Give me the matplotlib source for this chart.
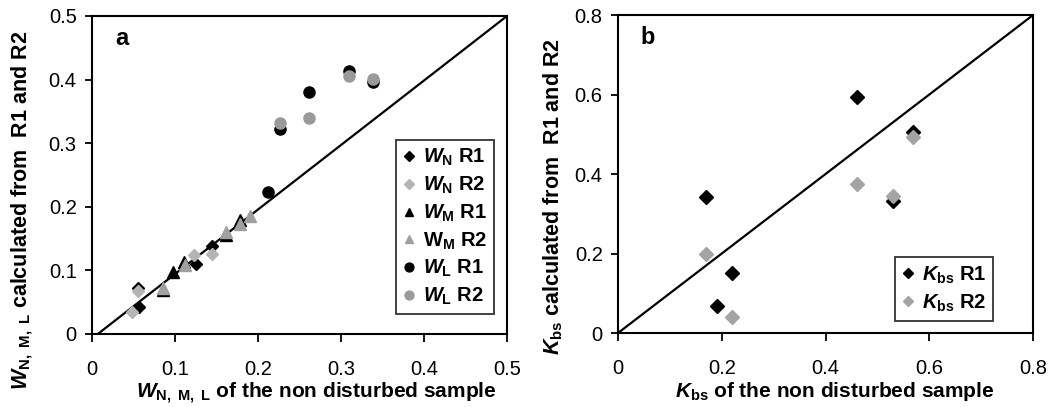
import matplotlib
matplotlib.use("Agg")
import matplotlib.pyplot as plt

plt.rcParams['font.family'] = ['Liberation Sans', 'DejaVu Sans']
plt.rcParams['mathtext.fontset'] = 'custom'
plt.rcParams['mathtext.rm'] = 'Liberation Sans:bold'
plt.rcParams['mathtext.it'] = 'Liberation Sans:bold:italic'
plt.rcParams['mathtext.bf'] = 'Liberation Sans:bold'

# panel a: W_N, W_M, W_L
wn_r1_x = [0.055, 0.057, 0.125, 0.144]
wn_r1_y = [0.072, 0.042, 0.110, 0.138]
wn_r2_x = [0.048, 0.055, 0.123, 0.144]
wn_r2_y = [0.034, 0.067, 0.124, 0.126]
wm_r1_x = [0.085, 0.098, 0.111, 0.162, 0.178]
wm_r1_y = [0.069, 0.098, 0.113, 0.156, 0.180]
wm_r2_x = [0.085, 0.112, 0.162, 0.178, 0.190]
wm_r2_y = [0.073, 0.108, 0.160, 0.173, 0.186]
wl_r1_x = [0.212, 0.227, 0.262, 0.310, 0.339]
wl_r1_y = [0.223, 0.323, 0.381, 0.413, 0.397]
wl_r2_x = [0.227, 0.262, 0.310, 0.339]
wl_r2_y = [0.332, 0.340, 0.405, 0.401]
line_a = ([0.007, 0.5], [0.0, 0.5])

# panel b: K_bs
kbs_r1_x = [0.170, 0.461, 0.569, 0.530, 0.220, 0.190]
kbs_r1_y = [0.343, 0.595, 0.505, 0.333, 0.150, 0.068]
kbs_r2_x = [0.170, 0.461, 0.569, 0.530, 0.220]
kbs_r2_y = [0.200, 0.374, 0.493, 0.345, 0.040]
line_b = ([0.0, 0.8], [0.0, 0.8])

ticks_a = [0, 0.1, 0.2, 0.3, 0.4, 0.5]
ticks_b = [0, 0.2, 0.4, 0.6, 0.8]
tick_lbl_a = ["0", "0.1", "0.2", "0.3", "0.4", "0.5"]
tick_lbl_b = ["0", "0.2", "0.4", "0.6", "0.8"]

black = "#000000"
gray_n = "#b4b4b4"
gray_m = "#a0a0a0"
gray_l = "#9a9a9a"
gray_k = "#a4a4a4"

fig = plt.figure(figsize=(10.55, 4.07), dpi=100)
ax1 = fig.add_axes([0.0872, 0.1794, 0.3934, 0.7813])
ax2 = fig.add_axes([0.5858, 0.1818, 0.3934, 0.7813])


def style(ax, ticks, labels, lim):
    ax.set_xlim(0, lim)
    ax.set_ylim(0, lim)
    ax.set_xticks(ticks)
    ax.set_yticks(ticks)
    ax.set_xticklabels(labels)
    ax.set_yticklabels(labels)
    ax.tick_params(axis='x', direction='out', length=6, width=1.3, labelsize=14.5, pad=12.5)
    ax.tick_params(axis='y', direction='out', length=5, width=1.3, labelsize=14.5, pad=6)
    for s in ax.spines.values():
        s.set_linewidth(1.5)


leg_kw = dict(loc='lower right', prop={'weight': 'bold', 'size': 14.5}, frameon=True,
              fancybox=False, edgecolor='black', handlelength=0.6, handletextpad=0.4,
              labelspacing=0.32, borderpad=0.35, borderaxespad=0, markerscale=0.8)

ms = 8
ax1.plot(*line_a, color='black', lw=1.6, zorder=1)
ax1.plot(wn_r1_x, wn_r1_y, 'D', color=black, ms=ms - 1.5, label=r"$\mathit{W}_{\mathrm{N}}$ R1", zorder=3)
ax1.plot(wn_r2_x, wn_r2_y, 'D', color=gray_n, ms=ms - 1.5, label=r"$\mathit{W}_{\mathrm{N}}$ R2", zorder=3)
ax1.plot(wm_r1_x, wm_r1_y, '^', color=black, ms=ms, label=r"$\mathit{W}_{\mathrm{M}}$ R1", zorder=3)
ax1.plot(wm_r2_x, wm_r2_y, '^', color=gray_m, ms=ms, label=r"W$_{\mathrm{M}}$ R2", zorder=3)
ax1.plot(wl_r1_x, wl_r1_y, 'o', color=black, ms=ms, label=r"$\mathit{W}_{\mathrm{L}}$ R1", zorder=3)
ax1.plot(wl_r2_x, wl_r2_y, 'o', color=gray_l, ms=ms, label=r"$\mathit{W}_{\mathrm{L}}$ R2", zorder=3)
style(ax1, ticks_a, tick_lbl_a, 0.5)
ax1.text(0.055, 0.93, "a", transform=ax1.transAxes, fontsize=17, fontweight='bold', va='center')
ax1.set_xlabel(r"$\mathit{W}_{\mathrm{N,\ M,\ L}}$ of the non disturbed sample",
               fontsize=15, fontweight='bold')
ax1.xaxis.set_label_coords(0.541, -0.147)
ax1.set_ylabel(r"$\mathit{W}_{\mathrm{N,\ M,\ L}}$ calculated from  R1 and R2",
               fontsize=15.5, fontweight='bold')
ax1.yaxis.set_label_coords(-0.137, 0.39)
leg1 = ax1.legend(bbox_to_anchor=(0.969, 0.062), **leg_kw)
leg1.get_frame().set_linewidth(1.3)

ax2.plot(*line_b, color='black', lw=1.6, zorder=1)
ax2.plot(kbs_r1_x, kbs_r1_y, 'D', color=black, ms=ms - 1, label=r"$\mathit{K}_{\mathrm{bs}}$ R1", zorder=3)
ax2.plot(kbs_r2_x, kbs_r2_y, 'D', color=gray_k, ms=ms - 1, label=r"$\mathit{K}_{\mathrm{bs}}$ R2", zorder=3)
style(ax2, ticks_b, tick_lbl_b, 0.8)
ax2.text(0.053, 0.93, "b", transform=ax2.transAxes, fontsize=17, fontweight='bold', va='center')
ax2.set_xlabel(r"$\mathit{K}_{\mathrm{bs}}$ of the non disturbed sample",
               fontsize=15, fontweight='bold')
ax2.xaxis.set_label_coords(0.523, -0.147)
ax2.set_ylabel(r"$\mathit{K}_{\mathrm{bs}}$ calculated from  R1 and R2",
               fontsize=15.5, fontweight='bold')
ax2.yaxis.set_label_coords(-0.128, 0.43)
leg2 = ax2.legend(bbox_to_anchor=(0.904, 0.039), **leg_kw)
leg2.get_frame().set_linewidth(1.3)

fig.savefig("out.png", dpi=100)
